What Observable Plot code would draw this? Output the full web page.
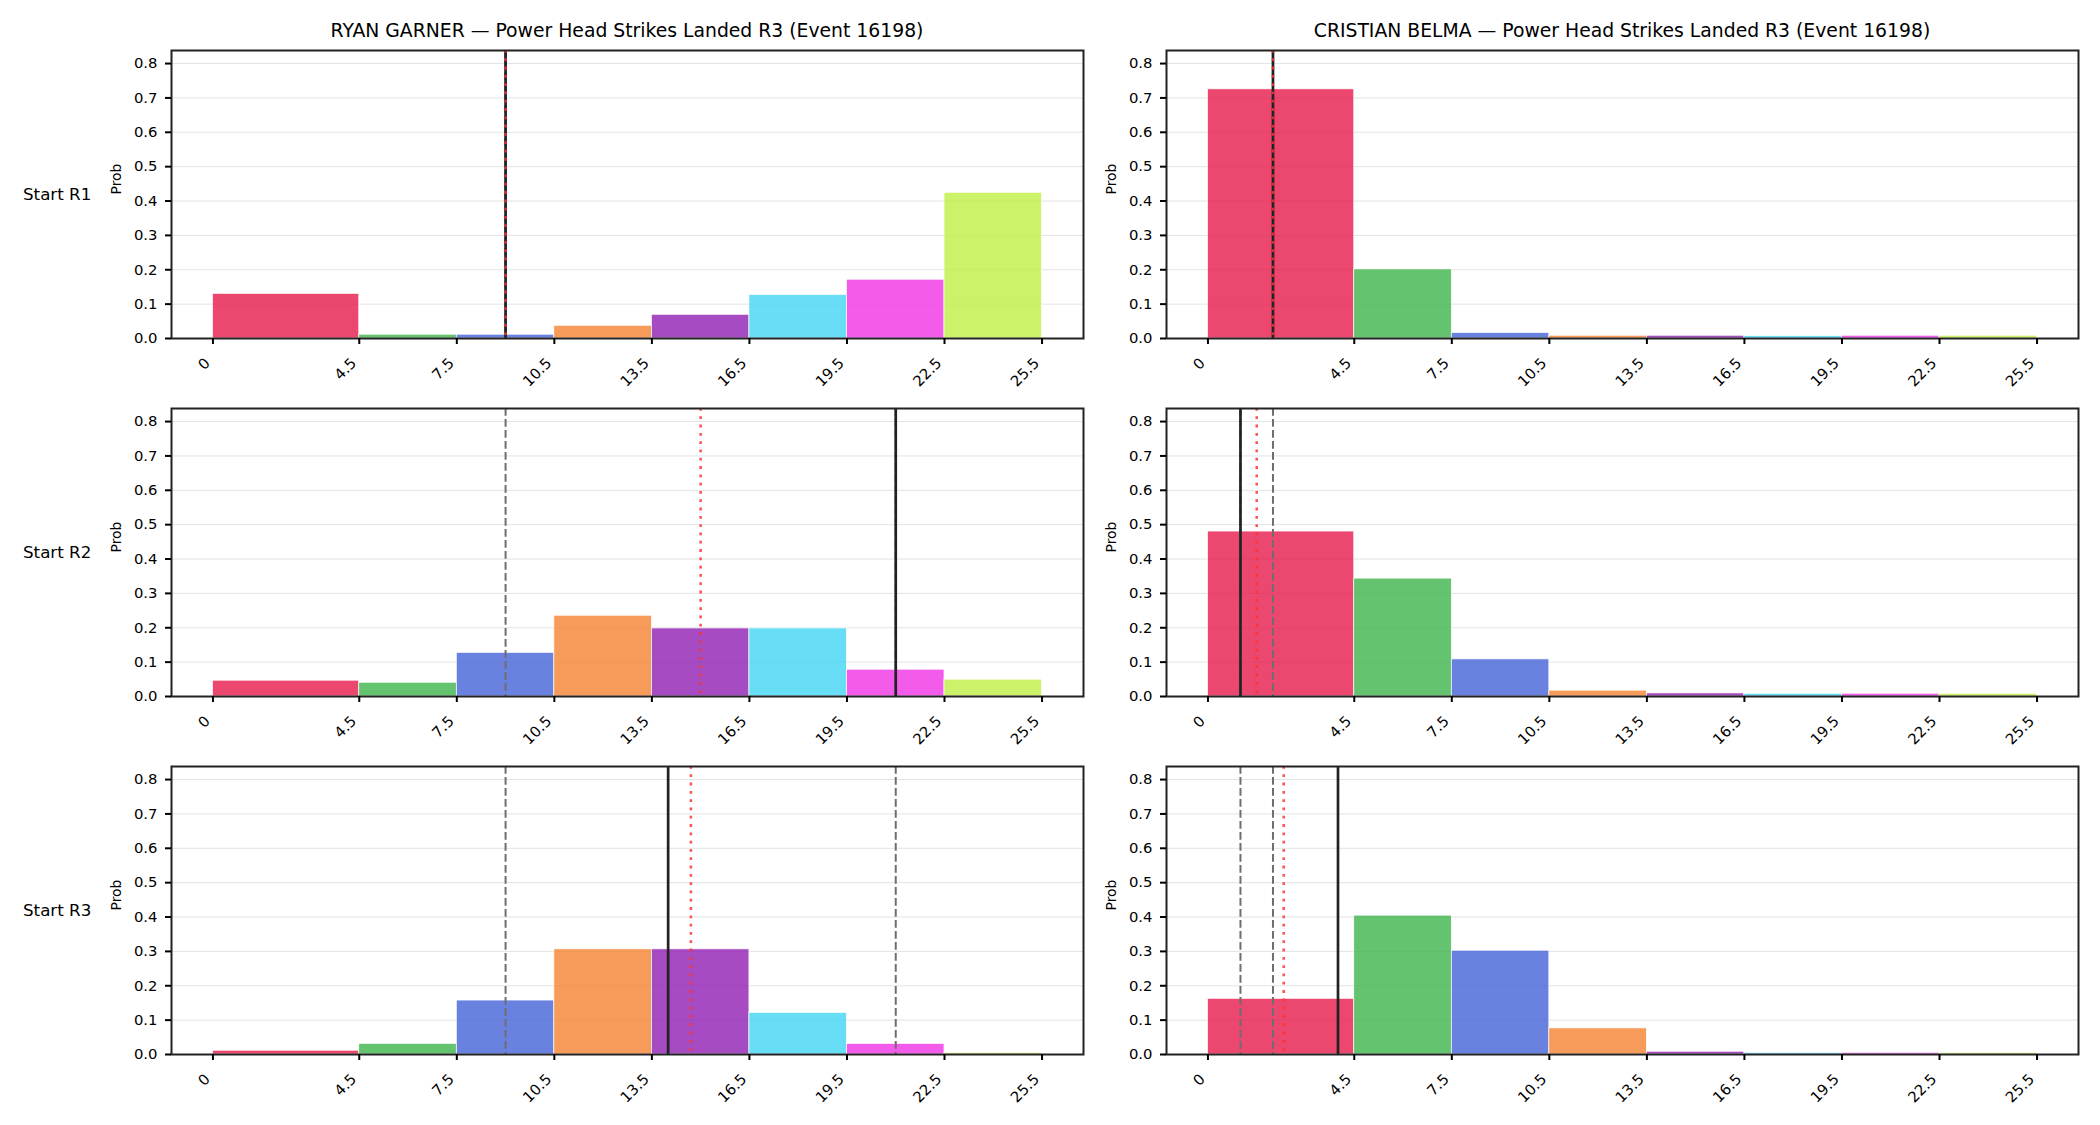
<!DOCTYPE html>
<html>
<head>
<meta charset="utf-8">
<script src="https://cdn.jsdelivr.net/npm/d3@7"></script>
<script src="https://cdn.jsdelivr.net/npm/@observablehq/plot@0.6"></script>
<style>
  html, body { margin: 0; padding: 0; background: #fff; }
  #chart { position: relative; width: 2100px; height: 1125px; background: #fff; font-family: "DejaVu Sans", sans-serif; color: #000; overflow: hidden; }
  .title { position: absolute; width: 912px; text-align: center; font-size: 18.8px; line-height: 22px; white-space: nowrap; }
  .rowlab { position: absolute; font-size: 16.7px; line-height: 20px; white-space: nowrap; }
  .panel { position: absolute; }
</style>
</head>
<body>
<div id="chart"></div>
<script>
// ---- data ----
const fighters = ["RYAN GARNER", "CRISTIAN BELMA"];
const titleSuffix = " — Power Head Strikes Landed R3 (Event 16198)";
const rowLabels = ["Start R1", "Start R2", "Start R3"];
const binEdges = [0, 4.5, 7.5, 10.5, 13.5, 16.5, 19.5, 22.5, 25.5];
const xTickLabels = ["0", "4.5", "7.5", "10.5", "13.5", "16.5", "19.5", "22.5", "25.5"];
const yTicks = [0, 0.1, 0.2, 0.3, 0.4, 0.5, 0.6, 0.7, 0.8];
const binColors = ["#e6194b", "#3cb44b", "#4363d8", "#f58231", "#911eb4", "#42d4f4", "#f032e6", "#bfef45"];

const garnerR1 = [0.130, 0.011, 0.011, 0.037, 0.069, 0.127, 0.171, 0.424];
const garnerR2 = [0.046, 0.040, 0.127, 0.235, 0.198, 0.198, 0.078, 0.049];
const garnerR3 = [0.011, 0.031, 0.157, 0.306, 0.306, 0.121, 0.031, 0.005];
const belmaR1 = [0.725, 0.201, 0.016, 0.008, 0.008, 0.007, 0.008, 0.008];
const belmaR2 = [0.480, 0.343, 0.108, 0.017, 0.009, 0.008, 0.008, 0.008];
const belmaR3 = [0.162, 0.404, 0.302, 0.076, 0.008, 0.005, 0.005, 0.005];

// reference lines per round (R1, R2, R3)
const garnerDashed = [[9, 9], [9, 21], [9, 21]];
const garnerDotted = [9, 15, 14.7];
const garnerSolid = [9, 21, 14];
const belmaDashed = [[2, 2], [1, 2], [1, 2]];
const belmaDotted = [2, 1.5, 2.33];
const belmaSolid = [2, 1, 4];

const yMax = 0.838;

// ---- layout ----
const colLeft = [171, 1166];
const rowTop = [50, 408, 766];
const frameW = 912, frameH = 288;
const ML = 120, MR = 10, MT = 10, MB = 60;

const chart = document.getElementById("chart");

const probs = [[garnerR1, garnerR2, garnerR3], [belmaR1, belmaR2, belmaR3]];
const dashed = [garnerDashed, belmaDashed];
const dotted = [garnerDotted, belmaDotted];
const solid = [garnerSolid, belmaSolid];

fighters.forEach((f, c) => {
  const t = document.createElement("div");
  t.className = "title";
  t.textContent = f + titleSuffix;
  t.style.left = colLeft[c] + "px";
  t.style.top = "19.8px";
  chart.appendChild(t);
});

rowLabels.forEach((lab, r) => {
  const d = document.createElement("div");
  d.className = "rowlab";
  d.textContent = lab;
  d.style.left = "23px";
  d.style.top = (rowTop[r] + 133.5) + "px";
  chart.appendChild(d);
});

for (let c = 0; c < 2; c++) {
  for (let r = 0; r < 3; r++) {
    const bins = probs[c][r].map((p, i) => ({x1: binEdges[i], x2: binEdges[i + 1], p, color: binColors[i]}));
    const svg = Plot.plot({
      width: ML + frameW + MR,
      height: MT + frameH + MB,
      marginLeft: ML, marginRight: MR, marginTop: MT, marginBottom: MB,
      x: {domain: [-1.275, 26.775], axis: null},
      y: {domain: [0, yMax], axis: null},
      color: {type: "identity"},
      style: {fontFamily: "'DejaVu Sans', sans-serif", background: "transparent", color: "#000", overflow: "visible"},
      marks: [
        Plot.ruleY(yTicks.filter(d => d > 0), {stroke: "#e3e3e3", strokeWidth: 1}),
        Plot.rectY(bins, {x1: "x1", x2: "x2", y: "p", fill: "color", fillOpacity: 0.8, stroke: "white", strokeWidth: 0.7}),
        Plot.ruleX(dashed[c][r], {stroke: "#6e6e6e", strokeWidth: 2, strokeDasharray: "7.7,3.3"}),
        Plot.ruleX([solid[c][r]], {stroke: "#222", strokeWidth: 2.7}),
        Plot.ruleX([dotted[c][r]], {stroke: "#ff3030", strokeOpacity: 0.85, strokeWidth: 2.5, strokeDasharray: "2.8,5.5"}),
        Plot.frame({stroke: "#222", strokeWidth: 2}),
        Plot.axisY({ticks: yTicks, tickFormat: d3.format(".1f"), tickSize: 6, tickPadding: 8, fontSize: 14.8, strokeWidth: 2, label: null}),
        Plot.axisX({ticks: binEdges, tickFormat: () => "", tickSize: 6, strokeWidth: 2, label: null}),
        Plot.text(binEdges, {x: d => d, y: 0, text: (d, i) => xTickLabels[i], rotate: -45, textAnchor: "end", lineAnchor: "bottom", dx: -2, dy: 25.6, fontSize: 14.8, fill: "#000"}),
        Plot.text(["Prob"], {frameAnchor: "left", text: d => d, rotate: -90, dx: -55, fontSize: 13.9, fill: "#000"})
      ]
    });
    svg.classList.add("panel");
    svg.style.left = (colLeft[c] - ML) + "px";
    svg.style.top = (rowTop[r] - MT) + "px";
    svg.style.maxWidth = "none";
    chart.appendChild(svg);
  }
}
</script>
</body>
</html>
